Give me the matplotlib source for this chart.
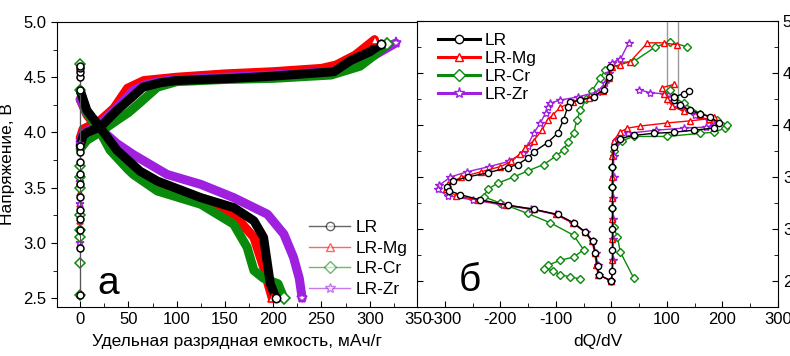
import matplotlib
matplotlib.use("Agg")
import matplotlib.pyplot as plt
from matplotlib.lines import Line2D
from matplotlib.ticker import MultipleLocator

plt.rcParams['font.family'] = ['Liberation Sans', 'DejaVu Sans']
plt.rcParams['axes.unicode_minus'] = False

# ---------------- data ----------------
labels = ["LR", "LR-Mg", "LR-Cr", "LR-Zr"]
colors = ["#000000", "#ff0000", "#0a8a0a", "#a020e0"]
markers = ["o", "^", "D", "*"]

# Panel a: charge curves (capacity mAh/g, voltage V)
chg_cap_LR = [0, 3, 7, 21, 38, 55, 65, 83, 100, 159, 200, 263, 280, 300, 312]
chg_v_LR = [3.88, 3.97, 4.0, 4.05, 4.2, 4.33, 4.41, 4.45, 4.47, 4.49, 4.51, 4.55, 4.65, 4.73, 4.8]
chg_cap_Mg = [0, 3, 21, 35, 49, 66, 100, 150, 200, 250, 265, 285, 305]
chg_v_Mg = [3.95, 4.03, 4.11, 4.22, 4.4, 4.47, 4.5, 4.53, 4.55, 4.58, 4.61, 4.7, 4.84]
chg_cap_Cr = [0, 7, 20, 38, 50, 62, 80, 100, 150, 200, 260, 290, 305, 318]
chg_v_Cr = [3.85, 3.93, 4.0, 4.11, 4.18, 4.27, 4.41, 4.46, 4.48, 4.49, 4.52, 4.6, 4.7, 4.8]
chg_cap_Zr = [0, 3, 21, 38, 55, 70, 90, 150, 200, 260, 285, 305, 327]
chg_v_Zr = [3.92, 3.99, 4.08, 4.22, 4.38, 4.44, 4.47, 4.5, 4.52, 4.55, 4.62, 4.7, 4.81]

# Panel a: discharge curves
dis_cap_LR = [0, 7, 21, 38, 62, 80, 125, 159, 180, 190, 194, 197, 203]
dis_v_LR = [4.38, 4.2, 4.04, 3.84, 3.65, 3.56, 3.41, 3.32, 3.2, 3.05, 2.81, 2.63, 2.5]
dis_cap_Mg = [0, 7, 21, 38, 62, 80, 125, 159, 180, 190, 195, 199]
dis_v_Mg = [4.3, 4.16, 4.0, 3.8, 3.62, 3.53, 3.38, 3.26, 3.05, 2.78, 2.62, 2.5]
dis_cap_Cr = [0, 7, 21, 31, 49, 55, 80, 125, 159, 173, 180, 190, 205, 211]
dis_v_Cr = [4.38, 4.18, 4.0, 3.84, 3.67, 3.62, 3.47, 3.35, 3.17, 2.96, 2.75, 2.68, 2.63, 2.5]
dis_cap_Zr = [0, 7, 21, 38, 55, 90, 125, 159, 194, 211, 221, 227, 230]
dis_v_Zr = [4.3, 4.17, 4.03, 3.9, 3.8, 3.62, 3.53, 3.41, 3.26, 3.08, 2.87, 2.68, 2.5]

# Panel a: rest points at zero capacity
rest_v_LR = [2.53, 2.95, 3.12, 3.22, 3.3, 3.42, 3.53, 3.62, 3.73, 3.82, 3.88, 4.38, 4.5, 4.55, 4.58, 4.6]
rest_v_Mg = [2.53, 2.98, 3.2, 3.35, 3.45, 3.55, 4.52, 4.58]
rest_v_Cr = [2.53, 2.82, 3.05, 3.12, 3.25, 3.5, 3.6, 3.7, 4.38, 4.62]
rest_v_Zr = [3.0, 3.35, 3.55, 3.9]

# Panel б: dQ/dV, discharge branch (dQ/dV, V)
dq_dis_LR = [-2, -5, -14, -32, -56, -74, -79, -86, -97, -115, -140, -151, -169, -187, -223, -259,
             -285, -296, -293, -272, -236, -187, -140, -97, -68, -47, -34, -29, -25, -23, 0]
vd_dis_LR = [4.56, 4.46, 4.34, 4.27, 4.24, 4.22, 4.17, 4.05, 3.92, 3.83, 3.74, 3.68, 3.62, 3.59, 3.54, 3.5,
             3.46, 3.4, 3.37, 3.33, 3.28, 3.23, 3.19, 3.14, 3.06, 2.97, 2.88, 2.77, 2.64, 2.56, 2.5]
dq_dis_Mg = [119, 94, 65, 34, 16, 2, -5, -15, -40, -70, -92, -105, -115, -125, -140, -155, -165, -180,
             -200, -235, -270, -295, -298, -280, -240, -190, -140, -100, -70, -48, -35, -30, -27, -24, 0]
vd_dis_Mg = [4.77, 4.79, 4.79, 4.61, 4.58, 4.56, 4.45, 4.33, 4.26, 4.22, 4.17, 4.1, 4.05, 3.95, 3.85, 3.78, 3.72, 3.65,
             3.6, 3.55, 3.5, 3.43, 3.38, 3.32, 3.28, 3.23, 3.19, 3.14, 3.06, 2.97, 2.88, 2.77, 2.65, 2.56, 2.5]
dq_dis_Cr = [137, 106, 79, 40, 11, -11, -20, -35, -45, -56, -62, -68, -78, -86, -100, -122, -150, -176, -205,
             -223, -230, -200, -151, -110, -68, -50, -68, -92, -115, -122, -106, -92, -74, -56]
vd_dis_Cr = [4.75, 4.8, 4.75, 4.61, 4.6, 4.53, 4.45, 4.33, 4.25, 4.14, 4.05, 3.92, 3.84, 3.76, 3.7, 3.62, 3.56, 3.5, 3.44,
             3.38, 3.31, 3.25, 3.15, 3.06, 2.94, 2.8, 2.73, 2.7, 2.65, 2.62, 2.6, 2.56, 2.54, 2.52]
dq_dis_Zr = [31, 16, 2, -5, -12, -25, -60, -92, -110, -115, -118, -128, -140, -151, -160, -185, -220, -260,
             -290, -310, -313, -295, -250, -195, -145, -100, -70, -46, -33, -28, -25, -22, 0]
vd_dis_Zr = [4.79, 4.63, 4.6, 4.5, 4.4, 4.32, 4.27, 4.24, 4.21, 4.17, 4.12, 4.02, 3.92, 3.8, 3.73, 3.65, 3.6, 3.55,
             3.5, 3.42, 3.38, 3.32, 3.28, 3.23, 3.19, 3.14, 3.06, 2.97, 2.88, 2.77, 2.65, 2.56, 2.5]

# Panel б: dQ/dV, charge branch
dq_chg_LR = [0, 2, 2, 2, 2, 2, 2, 4, 16, 40, 76, 112, 148, 184, 193, 178, 160, 142, 124, 112, 112, 130, 140]
vd_chg_LR = [2.5, 2.6, 2.8, 3.0, 3.2, 3.4, 3.6, 3.79, 3.87, 3.9, 3.92, 3.93, 3.95, 3.97, 4.02, 4.08, 4.11,
             4.14, 4.19, 4.24, 4.27, 4.3, 4.33]
dq_chg_Mg = [0, 2, 2, 2, 2, 2, 2, 4, 15, 29, 52, 101, 142, 175, 185, 160, 130, 110, 100, 95, 92, 112]
vd_chg_Mg = [2.5, 2.7, 2.9, 3.1, 3.3, 3.5, 3.7, 3.85, 3.93, 3.97, 3.99, 4.02, 4.04, 4.06, 4.08, 4.1, 4.13,
             4.18, 4.25, 4.3, 4.36, 4.39]
dq_chg_Cr = [40, 16, 11, 4, 2, 2, 2, 4, 20, 40, 101, 160, 184, 205, 209, 191, 160, 130, 112, 103, 106]
vd_chg_Cr = [2.53, 2.78, 2.92, 3.02, 3.2, 3.4, 3.6, 3.75, 3.85, 3.89, 3.89, 3.92, 3.93, 3.97, 4.0, 4.05,
             4.11, 4.21, 4.27, 4.31, 4.34]
dq_chg_Zr = [0, 3, 3, 3, 3, 4, 4, 8, 30, 80, 130, 170, 184, 175, 150, 130, 115, 105, 95, 70, 49]
vd_chg_Zr = [2.5, 2.7, 2.9, 3.1, 3.3, 3.5, 3.7, 3.85, 3.92, 3.95, 3.97, 3.98, 4.0, 4.05, 4.1, 4.15, 4.2,
             4.26, 4.3, 4.31, 4.34]

guide_x = [100, 120]
guide_v = [4.2, 5.0]

# ---------------- figure ----------------
fig = plt.figure(figsize=(7.9, 3.56), dpi=100)
axa = fig.add_axes([57 / 790, 1 - 307 / 356, 361 / 790, 285 / 356])
axb = fig.add_axes([417 / 790, 1 - 307 / 356, 361 / 790, 286 / 356])

chg_caps = [chg_cap_LR, chg_cap_Mg, chg_cap_Cr, chg_cap_Zr]
chg_vs = [chg_v_LR, chg_v_Mg, chg_v_Cr, chg_v_Zr]
dis_caps = [dis_cap_LR, dis_cap_Mg, dis_cap_Cr, dis_cap_Zr]
dis_vs = [dis_v_LR, dis_v_Mg, dis_v_Cr, dis_v_Zr]
rest_vs = [rest_v_LR, rest_v_Mg, rest_v_Cr, rest_v_Zr]

order = [1, 3, 2, 0]  # draw order: Mg, Zr, Cr, LR
for i in order:
    c = colors[i]
    ms_end = 8 if markers[i] == "*" else 6
    for xs, ys in ((chg_caps[i], chg_vs[i]), (dis_caps[i], dis_vs[i])):
        axa.plot(xs, ys, color=c, lw=6.5, solid_capstyle="round", zorder=2 + order.index(i))
        axa.plot(xs[-1:], ys[-1:], ls="none", marker=markers[i], ms=ms_end, mfc="white",
                 mec=c, mew=1.2, zorder=10)
for i in order:
    rv = rest_vs[i]
    axa.plot([0] * len(rv), rv, color="#555555" if i == 0 else colors[i], lw=0.8,
             marker=markers[i], ms=6 if markers[i] == "*" else 5, mfc="white", mec=colors[i],
             mew=1.1, zorder=12)

axa.set_xlim(-24, 350)
axa.set_ylim(2.42, 5.0)
axa.xaxis.set_major_locator(MultipleLocator(50))
axa.xaxis.set_minor_locator(MultipleLocator(25))
axa.yaxis.set_major_locator(MultipleLocator(0.5))
axa.yaxis.set_minor_locator(MultipleLocator(0.25))
axa.tick_params(axis="y", which="both", direction="out", labelsize=12, length=4)
axa.tick_params(axis="y", which="minor", length=3)
axa.tick_params(axis="x", which="both", direction="in", labelsize=12, length=4)
axa.tick_params(axis="x", which="minor", length=3)
axa.yaxis.set_major_formatter(matplotlib.ticker.FormatStrFormatter("%.1f"))
axa.set_ylabel("Напряжение, В", fontsize=12.5, labelpad=6)
axa.set_xlabel("Удельная разрядная емкость, мАч/г", fontsize=12.5, labelpad=5)
axa.text(29, 2.63, "а", fontsize=28, ha="center", va="center")

leg_a = [Line2D([0], [0], color=colors[i], alpha=0.6, lw=1, marker=markers[i],
                ms=7 if markers[i] == "*" else 6, mfc="white", mec=colors[i], mew=1) for i in range(4)]
axa.legend(leg_a, labels, loc="lower right", bbox_to_anchor=(1.0, 0.0), frameon=False, fontsize=12.5,
           handlelength=2.4, handletextpad=0.3, labelspacing=0.3, borderaxespad=0.2)

# Panel б
dq_dis = [dq_dis_LR, dq_dis_Mg, dq_dis_Cr, dq_dis_Zr]
vd_dis = [vd_dis_LR, vd_dis_Mg, vd_dis_Cr, vd_dis_Zr]
dq_chg = [dq_chg_LR, dq_chg_Mg, dq_chg_Cr, dq_chg_Zr]
vd_chg = [vd_chg_LR, vd_chg_Mg, vd_chg_Cr, vd_chg_Zr]

for gx in guide_x:
    axb.plot([gx, gx], guide_v, color="#999999", lw=1.0, zorder=1)

for i in [2, 3, 1, 0]:
    c = colors[i]
    ms = 6 if markers[i] == "*" else 4.5
    for xs, ys in ((dq_dis[i], vd_dis[i]), (dq_chg[i], vd_chg[i])):
        axb.plot(xs, ys, color=c, lw=1.0, marker=markers[i], ms=ms, mfc="white", mec=c, mew=1.0,
                 zorder=3 + [2, 3, 1, 0].index(i))

axb.set_xlim(-350, 300)
axb.set_ylim(2.25, 5.0)
axb.xaxis.set_major_locator(MultipleLocator(100))
axb.xaxis.set_minor_locator(MultipleLocator(50))
axb.yaxis.set_major_locator(MultipleLocator(0.5))
axb.yaxis.set_minor_locator(MultipleLocator(0.25))
axb.yaxis.set_major_formatter(matplotlib.ticker.FormatStrFormatter("%.1f"))
axb.tick_params(axis="y", which="both", direction="in", left=True, right=True,
                labelleft=False, labelright=True, labelsize=12, length=4)
axb.tick_params(axis="y", which="minor", length=3)
axb.tick_params(axis="x", which="both", direction="in", labelsize=12, length=4)
axb.tick_params(axis="x", which="minor", length=3)
axb.set_xlabel("dQ/dV", fontsize=12.5, labelpad=5)
axb.text(-254, 2.5, "б", fontsize=28, ha="center", va="center")

leg_b = [Line2D([0], [0], color=colors[i], lw=2.2, marker=markers[i],
                ms=8 if markers[i] == "*" else 6, mfc="white", mec=colors[i], mew=1) for i in range(4)]
axb.legend(leg_b, labels, loc="upper left", frameon=False, fontsize=12.5,
           handlelength=2.4, handletextpad=0.3, labelspacing=0.15, borderaxespad=0.3,
           bbox_to_anchor=(0.025, 1.0))

fig.savefig("out.png", dpi=100)
